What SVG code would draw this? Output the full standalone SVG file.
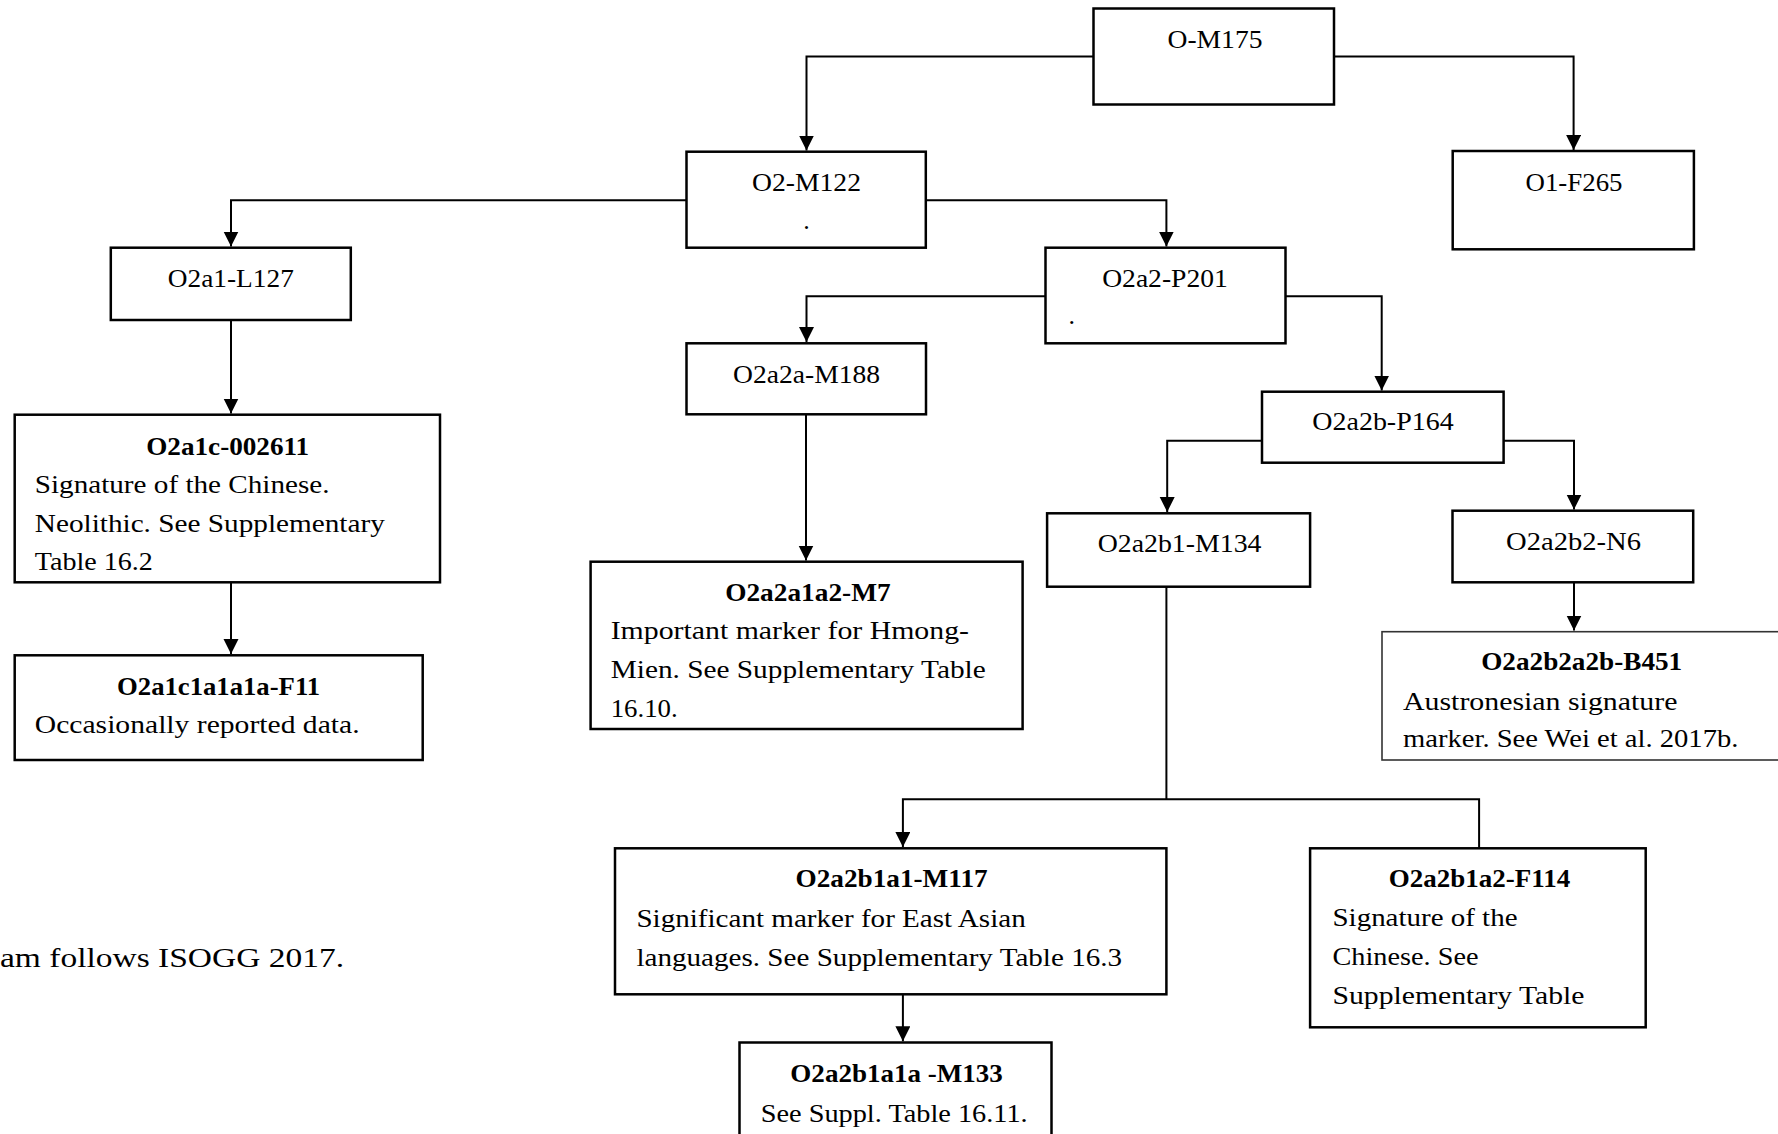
<svg xmlns="http://www.w3.org/2000/svg" width="1778" height="1134" viewBox="0 0 1778 1134">
<style>
.box{fill:#fff;stroke:#000;stroke-width:2.5}
.thin{fill:#fff;stroke:#333;stroke-width:1.6}
.t{font-family:"Liberation Serif","Times New Roman",serif;font-size:26px;fill:#000}
.c{text-anchor:middle}
.b{font-weight:bold}
.ln{fill:none;stroke:#000;stroke-width:2}
</style>
<defs>
<marker id="ah" markerUnits="userSpaceOnUse" markerWidth="16" markerHeight="16" refX="15" refY="7.5" orient="auto">
<path d="M0,0 L15,7.5 L0,15 z" fill="#000"/>
</marker>
</defs>
<g id="connectors">
<path class="ln" d="M1093.5,56.5 H806.5 V150.5" marker-end="url(#ah)"/>
<path class="ln" d="M1334,56.5 H1573.6 V150" marker-end="url(#ah)"/>
<path class="ln" d="M686.5,200.3 H231 V246.5" marker-end="url(#ah)"/>
<path class="ln" d="M925.8,200.3 H1166.4 V246.5" marker-end="url(#ah)"/>
<path class="ln" d="M231,320 V413.5" marker-end="url(#ah)"/>
<path class="ln" d="M1045.5,296.3 H806.5 V342" marker-end="url(#ah)"/>
<path class="ln" d="M1285.5,296.3 H1381.7 V390.5" marker-end="url(#ah)"/>
<path class="ln" d="M806,414.3 V560.5" marker-end="url(#ah)"/>
<path class="ln" d="M1262,440.7 H1167.2 V512" marker-end="url(#ah)"/>
<path class="ln" d="M1503.6,440.7 H1574 V509.5" marker-end="url(#ah)"/>
<path class="ln" d="M231,582.3 V654" marker-end="url(#ah)"/>
<path class="ln" d="M1574,582.3 V630.5" marker-end="url(#ah)"/>
<path class="ln" d="M1166.4,586.7 V799.3"/>
<path class="ln" d="M1479.1,848.3 V799.3 H902.9 V847" marker-end="url(#ah)"/>
<path class="ln" d="M902.9,994 V1041.3" marker-end="url(#ah)"/>
</g>
<g id="n-OM175">
<rect class="box" x="1093.5" y="8.5" width="240.5" height="96"/>
<text class="t c" x="1215" y="48" textLength="95" lengthAdjust="spacingAndGlyphs">O-M175</text>
</g>
<g id="n-O2M122">
<rect class="box" x="686.5" y="151.7" width="239.3" height="96"/>
<text class="t c" x="806.5" y="190.7" textLength="109" lengthAdjust="spacingAndGlyphs">O2-M122</text>
<text class="t c" x="806.5" y="228.5">.</text>
</g>
<g id="n-O1F265">
<rect class="box" x="1452.7" y="151" width="241.2" height="98.3"/>
<text class="t c" x="1574" y="190.7" textLength="97" lengthAdjust="spacingAndGlyphs">O1-F265</text>
</g>
<g id="n-O2a1L127">
<rect class="box" x="110.8" y="247.7" width="240" height="72.3"/>
<text class="t c" x="230.8" y="286.7" textLength="126" lengthAdjust="spacingAndGlyphs">O2a1-L127</text>
</g>
<g id="n-O2a2P201">
<rect class="box" x="1045.5" y="247.7" width="240" height="95.6"/>
<text class="t c" x="1165" y="286.7" textLength="125.6" lengthAdjust="spacingAndGlyphs">O2a2-P201</text>
<text class="t" x="1068.5" y="324">.</text>
</g>
<g id="n-O2a2aM188">
<rect class="box" x="686.5" y="343.3" width="239.5" height="71"/>
<text class="t c" x="806.5" y="382.5" textLength="147" lengthAdjust="spacingAndGlyphs">O2a2a-M188</text>
</g>
<g id="n-O2a2bP164">
<rect class="box" x="1262" y="391.7" width="241.6" height="71"/>
<text class="t c" x="1383" y="430" textLength="141.4" lengthAdjust="spacingAndGlyphs">O2a2b-P164</text>
</g>
<g id="n-O2a1c002611">
<rect class="box" x="14.7" y="414.7" width="425.3" height="167.6"/>
<text class="t c b" x="227.7" y="455" textLength="163" lengthAdjust="spacingAndGlyphs">O2a1c-002611</text>
<text class="t" x="34.8" y="493.3" textLength="294.7" lengthAdjust="spacingAndGlyphs">Signature of the Chinese.</text>
<text class="t" x="34.8" y="531.7" textLength="350" lengthAdjust="spacingAndGlyphs">Neolithic. See Supplementary</text>
<text class="t" x="34.8" y="570" textLength="118" lengthAdjust="spacingAndGlyphs">Table 16.2</text>
</g>
<g id="n-O2a2b1M134">
<rect class="box" x="1047.1" y="513.3" width="263" height="73.4"/>
<text class="t c" x="1179.6" y="551.7" textLength="163.8" lengthAdjust="spacingAndGlyphs">O2a2b1-M134</text>
</g>
<g id="n-O2a2b2N6">
<rect class="box" x="1452.5" y="510.7" width="240.7" height="71.6"/>
<text class="t c" x="1573.5" y="550" textLength="135" lengthAdjust="spacingAndGlyphs">O2a2b2-N6</text>
</g>
<g id="n-O2a2a1a2M7">
<rect class="box" x="590.6" y="561.7" width="432" height="167.3"/>
<text class="t c b" x="807.9" y="600.7" textLength="165.4" lengthAdjust="spacingAndGlyphs">O2a2a1a2-M7</text>
<text class="t" x="610.7" y="639.3" textLength="358.3" lengthAdjust="spacingAndGlyphs">Important marker for Hmong-</text>
<text class="t" x="610.7" y="678.3" textLength="375" lengthAdjust="spacingAndGlyphs">Mien. See Supplementary Table</text>
<text class="t" x="610.7" y="716.7" textLength="67" lengthAdjust="spacingAndGlyphs">16.10.</text>
</g>
<g id="n-O2a2b2a2bB451">
<rect class="thin" x="1382" y="631.7" width="420" height="128.3"/>
<text class="t c b" x="1581.7" y="670" textLength="201" lengthAdjust="spacingAndGlyphs">O2a2b2a2b-B451</text>
<text class="t" x="1403" y="710" textLength="274.4" lengthAdjust="spacingAndGlyphs">Austronesian signature</text>
<text class="t" x="1403" y="746.7" textLength="335.4" lengthAdjust="spacingAndGlyphs">marker. See Wei et al. 2017b.</text>
</g>
<g id="n-O2a1c1a1a1aF11">
<rect class="box" x="14.7" y="655.3" width="408" height="104.7"/>
<text class="t c b" x="218.6" y="695" textLength="203" lengthAdjust="spacingAndGlyphs">O2a1c1a1a1a-F11</text>
<text class="t" x="34.8" y="733.3" textLength="324.8" lengthAdjust="spacingAndGlyphs">Occasionally reported data.</text>
</g>
<g id="n-O2a2b1a1M117">
<rect class="box" x="615" y="848.3" width="551.4" height="146"/>
<text class="t c b" x="891.6" y="887" textLength="192" lengthAdjust="spacingAndGlyphs">O2a2b1a1-M117</text>
<text class="t" x="636.4" y="927" textLength="389.3" lengthAdjust="spacingAndGlyphs">Significant marker for East Asian</text>
<text class="t" x="636.4" y="966" textLength="485.7" lengthAdjust="spacingAndGlyphs">languages. See Supplementary Table 16.3</text>
</g>
<g id="n-O2a2b1a2F114">
<rect class="box" x="1310.1" y="848.3" width="335.6" height="179"/>
<text class="t c b" x="1479.4" y="886.7" textLength="181.5" lengthAdjust="spacingAndGlyphs">O2a2b1a2-F114</text>
<text class="t" x="1332.5" y="925.7" textLength="185" lengthAdjust="spacingAndGlyphs">Signature of the</text>
<text class="t" x="1332.5" y="965" textLength="146" lengthAdjust="spacingAndGlyphs">Chinese. See</text>
<text class="t" x="1332.5" y="1004.3" textLength="252" lengthAdjust="spacingAndGlyphs">Supplementary Table</text>
</g>
<g id="n-O2a2b1a1aM133">
<rect class="box" x="739.5" y="1042.5" width="312" height="110"/>
<text class="t c b" x="896.6" y="1081.7" textLength="212.5" lengthAdjust="spacingAndGlyphs">O2a2b1a1a -M133</text>
<text class="t" x="760.7" y="1121.7" textLength="267" lengthAdjust="spacingAndGlyphs">See Suppl. Table 16.11.</text>
</g>
<g id="caption">
<text class="t" x="0" y="966.7" style="font-size:28px" textLength="344" lengthAdjust="spacingAndGlyphs">am follows ISOGG 2017.</text>
</g>
</svg>
